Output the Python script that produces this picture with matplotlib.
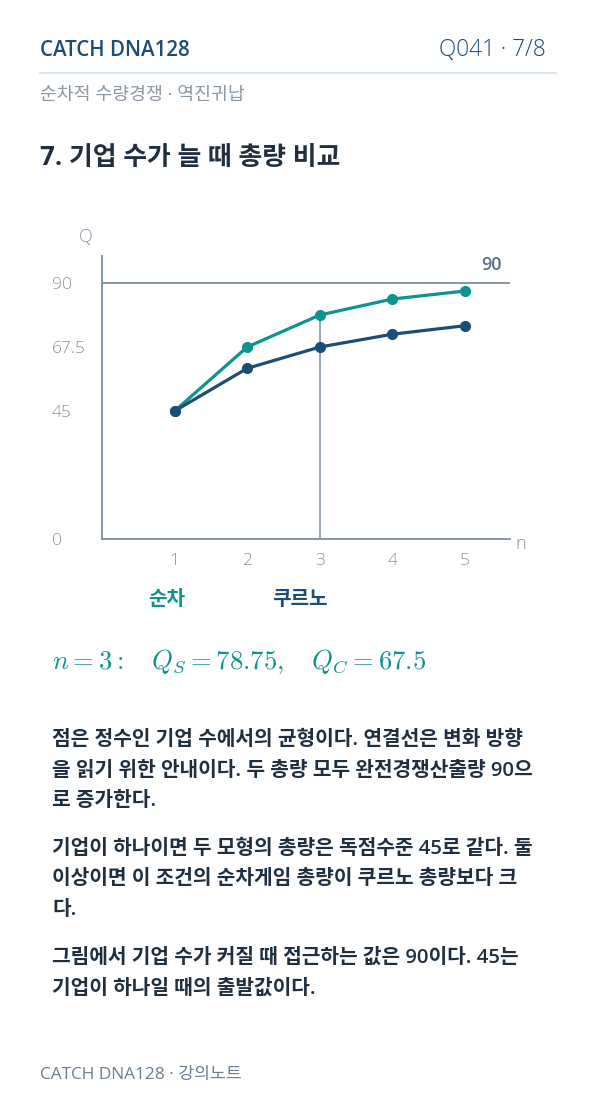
import matplotlib
matplotlib.use('Agg')
import matplotlib.pyplot as plt

plt.rcParams['font.family'] = ['Open Sans', 'Noto Sans CJK KR', 'DejaVu Sans']
plt.rcParams['mathtext.fontset'] = 'cm'

# data
n_firms = [1, 2, 3, 4, 5]
q_seq = [45, 67.5, 78.75, 84.375, 87.1875]      # 순차 (Stackelberg)
q_cournot = [45, 60, 67.5, 72, 75]             # 쿠르노
q_comp = 90
n_mark = 3
y_ticks = [0, 45, 67.5, 90]
y_ticklabels = ['0', '45', '67.5', '90']

TEAL = '#0e9490'
NAVY = '#1c4c78'
AXC = '#7d8d9f'
TXT = '#1f2f3f'
GRAY = '#8595a6'

W, H = 596, 1106
fig = plt.figure(figsize=(W / 100, H / 100), dpi=100)
fig.patch.set_facecolor('white')

def px(x, y):
    return x / W, 1 - y / H

# header
fig.text(*px(40, 50), 'CATCH DNA128', fontsize=14.8, fontweight='semibold', color=NAVY, va='center')
fig.text(*px(546, 50), 'Q041 · 7/8', fontsize=16.3, fontweight='light', color=NAVY, va='center', ha='right')
fig.add_artist(plt.Line2D([40 / W, 556 / W], [1 - 73 / H] * 2, color='#cfe0ee', lw=1.2))
fig.text(*px(40, 95), '순차적 수량경쟁 · 역진귀납', fontsize=13.2, color='#8a97a5', va='center')
fig.text(*px(40, 158), '7. 기업 수가 늘 때 총량 비교', fontsize=18.6, fontweight='bold', color=TXT, va='center')

# chart axes: x from 102 to 510 px, y from 256 to 539 px
xmax, ymax = 5.62, 99.5
ax = fig.add_axes([102 / W, 1 - 539 / H, (510 - 102) / W, (539 - 256) / H])
ax.set_xlim(0, xmax)
ax.set_ylim(0, ymax)
for s in ['top', 'right']:
    ax.spines[s].set_visible(False)
for s in ['left', 'bottom']:
    ax.spines[s].set_color(AXC)
    ax.spines[s].set_linewidth(1.3)

ax.axhline(q_comp, color=AXC, lw=1.3, zorder=1)
ax.plot([n_mark, n_mark], [0, q_seq[n_firms.index(n_mark)]], color=AXC, lw=1.1, zorder=1)

ax.plot(n_firms, q_seq, color=TEAL, lw=2.3, marker='o', ms=7, zorder=3, clip_on=False)
ax.plot(n_firms, q_cournot, color=NAVY, lw=2.3, marker='o', ms=7, zorder=4, clip_on=False)

ax.set_xticks(n_firms)
ax.set_xticklabels([str(v) for v in n_firms])
ax.set_yticks(y_ticks)
ax.set_yticklabels(y_ticklabels)
ax.tick_params(length=0, labelsize=12.5, labelcolor=GRAY)
ax.tick_params(axis='x', pad=10)
ax.tick_params(axis='y', pad=36)
for lab in ax.get_xticklabels() + ax.get_yticklabels():
    lab.set_fontweight('light')
for lab in ax.get_yticklabels():
    lab.set_horizontalalignment('left')

ax.text(5.37, q_comp + 3, str(q_comp), fontsize=13, fontweight='semibold', color='#5d6e80',
        ha='center', va='bottom')
fig.text(*px(86, 237), 'Q', fontsize=13, fontweight='light', color=GRAY, ha='center', va='center')
fig.text(*px(521, 544), 'n', fontsize=13, fontweight='light', color=GRAY, ha='center', va='center')

# legend labels
fig.text(*px(148, 600), '순차', fontsize=14.5, fontweight='bold', color=TEAL, va='center')
fig.text(*px(272, 600), '쿠르노', fontsize=14.5, fontweight='bold', color=NAVY, va='center')

# formula
fig.text(*px(52, 662), r'$n=3:\quad Q_S=78.75,\quad Q_C=67.5$', fontsize=19.2, color=TEAL, va='center')

# paragraphs
paras = [
    (740, ['점은 정수인 기업 수에서의 균형이다. 연결선은 변화 방향',
           '을 읽기 위한 안내이다. 두 총량 모두 완전경쟁산출량 90으',
           '로 증가한다.']),
    (849, ['기업이 하나이면 두 모형의 총량은 독점수준 45로 같다. 둘',
           '이상이면 이 조건의 순차게임 총량이 쿠르노 총량보다 크',
           '다.']),
    (958, ['그림에서 기업 수가 커질 때 접근하는 값은 90이다. 45는',
           '기업이 하나일 때의 출발값이다.']),
]
for y0, lines in paras:
    for i, line in enumerate(lines):
        fig.text(*px(52, y0 + i * 30.5), line, fontsize=14.6, fontweight='semibold',
                 color=TXT, va='center')

fig.text(*px(40, 1075), 'CATCH DNA128 · 강의노트', fontsize=12.4, color='#6a7d92', va='center')

fig.savefig('out.png', dpi=100, facecolor='white')
